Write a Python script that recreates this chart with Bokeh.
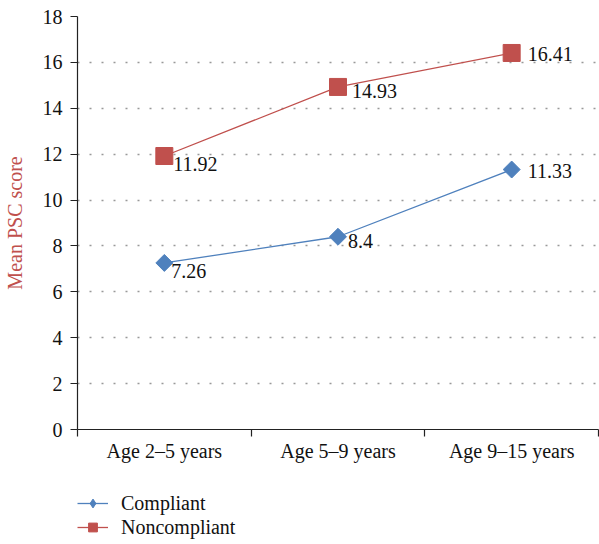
from bokeh.plotting import figure
from bokeh.models import (ColumnDataSource, Range1d, FixedTicker, Legend, LegendItem)
from bokeh.layouts import column
from bokeh.core.properties import value
from bokeh.embed import file_html
from bokeh.resources import INLINE
import numpy as np

categories = ["Age 2\u20135 years", "Age 5\u20139 years", "Age 9\u201315 years"]
compliant = [7.26, 8.4, 11.33]
noncompliant = [11.92, 14.93, 16.41]
y_ticks = [0, 2, 4, 6, 8, 10, 12, 14, 16, 18]
series_names = ["Compliant", "Noncompliant"]

# label offsets (style only)
comp_dx = [7, 10, 16]
comp_dy = [8, 4, 1]
non_dx = [9, 14, 16]
non_dy = [8, 4, 1]

BLUE = "#4f81bd"
RED = "#c0504d"
FONT = "'Liberation Serif'"

n = len(categories)
xs = [i + 0.5 for i in range(n)]

p = figure(width=599, height=470, output_backend="svg", toolbar_location=None,
           x_range=Range1d(0, n), y_range=Range1d(0, 18),
           min_border_left=76, min_border_right=1, min_border_top=16, min_border_bottom=41)
p.outline_line_color = None
p.background_fill_color = "white"
p.border_fill_color = "white"

# axes
xa = p.xaxis[0]
xa.ticker = FixedTicker(ticks=xs, minor_ticks=list(range(n + 1)))
xa.major_label_overrides = {x: c for x, c in zip(xs, categories)}
xa.major_tick_line_color = None
xa.major_tick_out = 0
xa.major_tick_in = 0
xa.minor_tick_out = 7
xa.minor_tick_in = 0
xa.minor_tick_line_color = "#222222"
xa.minor_tick_line_width = 1.2
xa.axis_line_color = "#222222"
xa.axis_line_width = 1.2
xa.major_label_standoff = 3
xa.major_label_text_font = FONT
xa.major_label_text_font_size = "20px"
xa.major_label_text_color = "#111111"

ya = p.yaxis[0]
ya.ticker = FixedTicker(ticks=y_ticks)
ya.minor_tick_line_color = None
ya.major_tick_out = 7
ya.major_tick_in = 0
ya.major_tick_line_color = "#222222"
ya.major_tick_line_width = 1.2
ya.axis_line_color = "#222222"
ya.axis_line_width = 1.2
ya.major_label_standoff = 8
ya.major_label_text_font = FONT
ya.major_label_text_font_size = "20px"
ya.major_label_text_color = "#111111"
ya.axis_label = "Mean PSC score"
ya.axis_label_text_font = FONT
ya.axis_label_text_font_size = "20px"
ya.axis_label_text_font_style = "normal"
ya.axis_label_text_color = RED
ya.axis_label_standoff = 14

p.xgrid.visible = False
p.ygrid.ticker = FixedTicker(ticks=y_ticks)
p.ygrid.grid_line_color = "#999999"
p.ygrid.grid_line_dash = "2 10"
p.ygrid.grid_line_width = 1.5

src_c = ColumnDataSource(dict(x=xs, y=compliant, t=[str(v) for v in compliant],
                              dx=comp_dx, dy=comp_dy))
src_n = ColumnDataSource(dict(x=xs, y=noncompliant, t=[str(v) for v in noncompliant],
                              dx=non_dx, dy=non_dy))

p.line("x", "y", source=src_c, line_color=BLUE, line_width=1.3)
p.scatter("x", "y", source=src_c, marker="square", angle=np.pi / 4, size=12,
          fill_color=BLUE, line_color=BLUE)
p.line("x", "y", source=src_n, line_color=RED, line_width=1.3)
p.scatter("x", "y", source=src_n, marker="square", size=17,
          fill_color=RED, line_color=RED)

for s in (src_c, src_n):
    p.text("x", "y", text="t", source=s, x_offset="dx", y_offset="dy",
           text_align="left", text_baseline="middle",
           text_font=value(FONT), text_font_size=value("20px"), text_color="#111111")

# legend strip below the chart: same series, drawn out of its visible range,
# only their legend glyphs show
q = figure(width=599, height=74, output_backend="svg", toolbar_location=None,
           x_axis_type=None, y_axis_type=None, x_range=Range1d(0, n), y_range=Range1d(-2, -1),
           min_border_left=0, min_border_right=0, min_border_top=0, min_border_bottom=0)
q.outline_line_color = None
q.grid.visible = False
qlc = q.line("x", "y", source=src_c, line_color=BLUE, line_width=1.3)
qmc = q.scatter("x", "y", source=src_c, marker="diamond", size=12,
                fill_color=BLUE, line_color=BLUE)
qln = q.line("x", "y", source=src_n, line_color=RED, line_width=1.3)
qmn = q.scatter("x", "y", source=src_n, marker="square", size=17,
                fill_color=RED, line_color=RED)

legend = Legend(items=[LegendItem(label=series_names[0], renderers=[qlc, qmc]),
                       LegendItem(label=series_names[1], renderers=[qln, qmn])],
                location=(0, 5), orientation="vertical",
                padding=0, margin=0, spacing=0,
                glyph_width=31, glyph_height=22, label_height=24, label_standoff=13,
                label_text_font=FONT, label_text_font_size="20px",
                label_text_color="#111111",
                background_fill_alpha=0, border_line_color=None)
q.add_layout(legend)

layout = column(p, q, spacing=0)
open("out.html", "w").write(file_html(layout, INLINE))
